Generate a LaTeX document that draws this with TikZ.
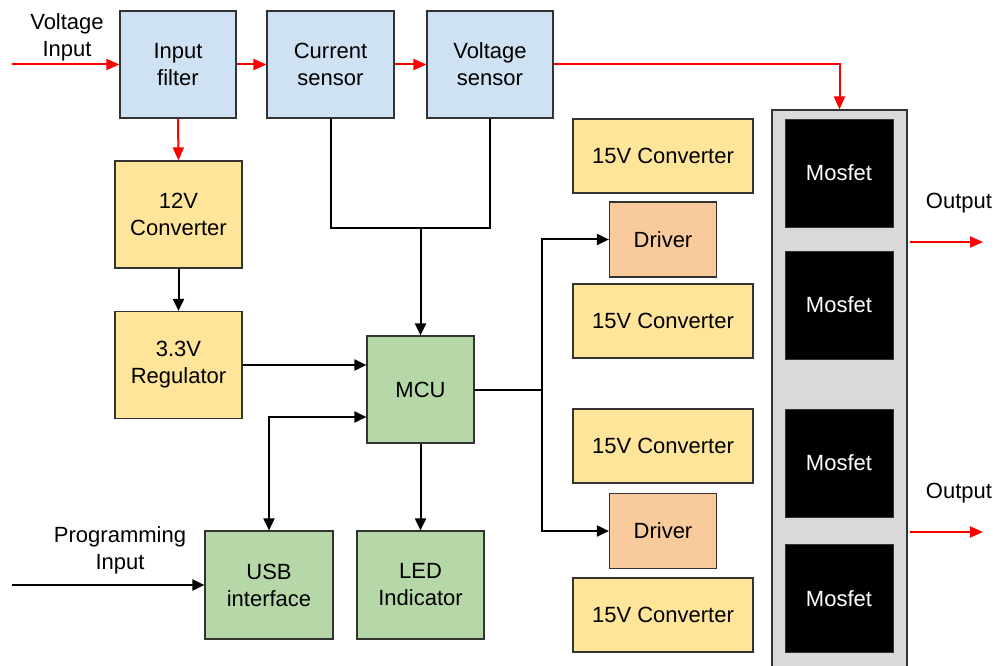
\documentclass[tikz,border=0pt]{standalone}
\usepackage{fontspec}
\setmainfont{Liberation Sans}
\usetikzlibrary{arrows.meta,calc}
\definecolor{cblue}{HTML}{CFE2F3}
\definecolor{cyel}{HTML}{FFE599}
\definecolor{corange}{HTML}{F9CB9C}
\definecolor{cgreen}{HTML}{B6D7A8}
\definecolor{cgray}{HTML}{D9D9D9}
\definecolor{cborder}{HTML}{333333}
\definecolor{cred}{HTML}{FF0000}
\tikzset{
  blk/.style={draw=cborder, line width=1.2pt, rectangle, align=center, inner sep=0pt,
    font=\fontsize{22}{27}\selectfont},
  bluebox/.style={blk, fill=cblue},
  yelbox/.style={blk, fill=cyel},
  orbox/.style={blk, fill=corange},
  grbox/.style={blk, fill=cgreen},
  mosbox/.style={rectangle, fill=black, draw=cborder, line width=0.8pt, text=white,
    minimum width=108pt, minimum height=108pt, inner sep=0pt, font=\fontsize{22}{27}\selectfont},
  lbl/.style={align=center, font=\fontsize{22}{27}\selectfont, inner sep=0pt},
  blkarrow/.style={draw=black, line width=2pt, -{Triangle[length=12pt,width=11pt]}},
  redarrow/.style={draw=cred, line width=2pt, -{Triangle[length=13pt,width=11pt]}},
  blkline/.style={draw=black, line width=2pt},
  redline/.style={draw=cred, line width=2pt},
}
\begin{document}
\begin{tikzpicture}[x=1pt,y=-1pt]
\useasboundingbox (0,0) rectangle (997,666);

% top row
\node[bluebox, minimum width=116pt, minimum height=107pt] (filt) at (178,64.5) {Input\\filter};
\node[bluebox, minimum width=127pt, minimum height=107pt] (cur) at (330.5,64.5) {Current\\sensor};
\node[bluebox, minimum width=126pt, minimum height=107pt] (vol) at (490,64.5) {Voltage\\sensor};

% power chain
\node[yelbox, minimum width=127pt, minimum height=107pt] (c12) at (178.5,214.5) {12V\\Converter};
\node[yelbox, minimum width=127pt, minimum height=107pt] (reg) at (178.5,365) {3.3V\\Regulator};

% MCU and peripherals
\node[grbox, minimum width=107pt, minimum height=107pt] (mcu) at (420.5,389.5) {MCU};
\node[grbox, minimum width=128pt, minimum height=108pt] (usb) at (269,585) {USB\\interface};
\node[grbox, minimum width=127pt, minimum height=108pt] (led) at (420.5,585) {LED\\Indicator};

% converters and drivers
\node[yelbox, minimum width=180pt, minimum height=74pt] (cv1) at (663,156) {15V Converter};
\node[orbox, minimum width=107pt, minimum height=75pt] (drv1) at (663,239.5) {Driver};
\node[yelbox, minimum width=180pt, minimum height=74pt] (cv2) at (663,321) {15V Converter};
\node[yelbox, minimum width=180pt, minimum height=74pt] (cv3) at (663,446) {15V Converter};
\node[orbox, minimum width=107pt, minimum height=75pt] (drv2) at (663,531) {Driver};
\node[yelbox, minimum width=180pt, minimum height=74pt] (cv4) at (663,615) {15V Converter};

% mosfet panel
\node[rectangle, fill=cgray, draw=cborder, line width=1.2pt, minimum width=135pt, minimum height=580pt, inner sep=0pt] (panel) at (839.5,400) {};
\node[mosbox] (m1) at (839,173) {Mosfet};
\node[mosbox] (m2) at (839,305) {Mosfet};
\node[mosbox] (m3) at (839,463) {Mosfet};
\node[mosbox] (m4) at (839,598.5) {Mosfet};

% labels
\node[lbl] (vinl) at (67,37) {Voltage\\Input};
\node[lbl] (pinl) at (120,550) {Programming\\Input};
\node[lbl] (out1) at (959,203) {Output};
\node[lbl] (out2) at (959,493) {Output};

% coordinates for free ends / junctions
\coordinate (vin) at (12,64.5);
\coordinate (pin) at (12,585);
\coordinate (bj) at (420.5,228);
\coordinate (uj) at (269,417);
\coordinate (dj) at (542,389.5);
\coordinate (o1) at (983,242);
\coordinate (o2) at (983,532);

% red power path
\draw[redarrow] (vin) -- (filt.west);
\draw[redarrow] (filt.east) -- (cur.west);
\draw[redarrow] (cur.east) -- (vol.west);
\draw[redarrow] (vol.east) -| (panel.north);
\draw[redarrow] (filt.south) -- (c12.north);
\draw[redarrow] ([xshift=2pt]panel.east |- o1) -- (o1);
\draw[redarrow] ([xshift=2pt]panel.east |- o2) -- (o2);

% black signal path
\draw[blkarrow] (c12.south) -- (reg.north);
\draw[blkarrow] (reg.east) -- (reg.east -| mcu.west);
\draw[blkline] (cur.south) |- (bj) -| (vol.south);
\draw[blkarrow] (bj) -- (mcu.north);
\draw[blkline, {Triangle[length=12pt,width=11pt]}-{Triangle[length=12pt,width=11pt]}] (uj -| mcu.west) -- (uj) -- (usb.north);
\draw[blkarrow] (mcu.south) -- (led.north);
\draw[blkarrow] (pin) -- (usb.west);
\draw[blkline] (mcu.east) -- (dj);
\draw[blkarrow] (dj) |- (drv1.west);
\draw[blkarrow] (dj) |- (drv2.west);
\end{tikzpicture}
\end{document}
